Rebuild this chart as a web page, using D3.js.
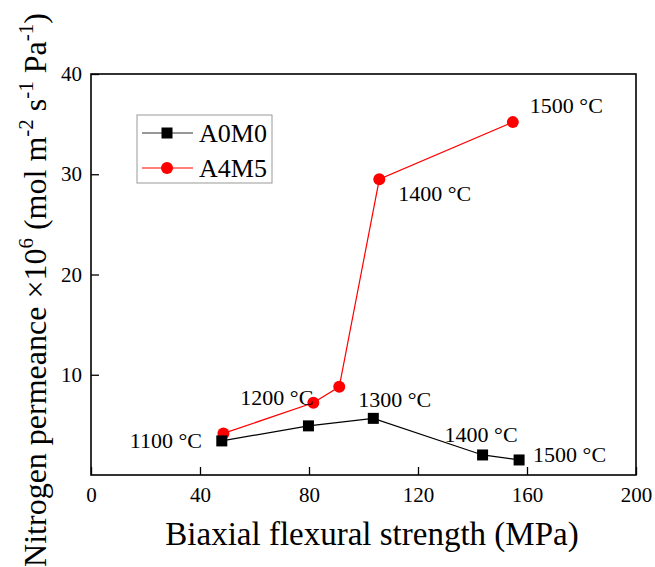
<!DOCTYPE html>
<html>
<head>
<meta charset="utf-8">
<script src="https://cdn.jsdelivr.net/npm/d3@7"></script>
<style>
  body { margin: 0; background: #fff; }
  svg { display: block; font-family: "Liberation Serif", "Times New Roman", serif; }
  .axis text { font-family: "Liberation Serif", "Times New Roman", serif; font-size: 21px; fill: #000; }
  .axis line { stroke: #000; stroke-width: 1.3; }
</style>
</head>
<body>
<svg width="655" height="567"></svg>
<script>
// data
const seriesNames = ['A0M0', 'A4M5'];
const a0m0Strength = [48.0, 79.8, 103.6, 143.7, 157.1];
const a0m0Permeance = [3.4, 4.9, 5.65, 2.0, 1.5];
const a4m5Strength = [48.6, 81.6, 91.1, 105.8, 154.8];
const a4m5Permeance = [4.15, 7.2, 8.8, 29.5, 35.2];
const a0m0Labels = ['1100 °C', '', '1300 °C', '1400 °C', '1500 °C'];
const a4m5Labels = ['', '1200 °C', '', '1400 °C', '1500 °C'];
const xTicks = [0, 40, 80, 120, 160, 200];
const yTicks = [10, 20, 30, 40];

// label offsets from the marker (px)
const a0m0Offsets = [[-92, 7], null, [-15, -11], [-38, -13], [14, 2]];
const a4m5Offsets = [null, [-73, 2], null, [19, 22], [17, -9]];

const svg = d3.select('svg');
const margin = { left: 91, top: 74, right: 636, bottom: 475 };
const innerWidth = margin.right - margin.left;
const innerHeight = margin.bottom - margin.top;

const x = d3.scaleLinear().domain([0, 200]).range([0, innerWidth]);
const y = d3.scaleLinear().domain([0, 40]).range([innerHeight, 0]);

const g = svg.append('g').attr('transform', `translate(${margin.left},${margin.top})`);

// axes, ticks pointing inward
const xAxis = d3.axisBottom(x).tickValues(xTicks).tickSizeInner(-8).tickSizeOuter(0).tickPadding(12);
const yAxis = d3.axisLeft(y).tickValues(yTicks).tickSizeInner(-8).tickSizeOuter(0).tickPadding(9);

g.append('g').attr('class', 'axis').attr('transform', `translate(0,${innerHeight})`).call(xAxis)
  .call(s => s.select('.domain').remove());
g.append('g').attr('class', 'axis').call(yAxis)
  .call(s => s.select('.domain').remove());

g.append('rect')
  .attr('width', innerWidth).attr('height', innerHeight)
  .attr('fill', 'none').attr('stroke', '#000').attr('stroke-width', 1.6);

const series = [
  { name: seriesNames[1], xs: a4m5Strength, ys: a4m5Permeance, labels: a4m5Labels, offsets: a4m5Offsets, color: '#ff0000', shape: 'circle' },
  { name: seriesNames[0], xs: a0m0Strength, ys: a0m0Permeance, labels: a0m0Labels, offsets: a0m0Offsets, color: '#000000', shape: 'square' },
];

const line = d3.line().x(d => x(d[0])).y(d => y(d[1]));

series.forEach(s => {
  const pts = s.xs.map((v, i) => [v, s.ys[i]]);
  g.append('path').datum(pts)
    .attr('d', line).attr('fill', 'none').attr('stroke', s.color).attr('stroke-width', 1.2);
  if (s.shape === 'circle') {
    g.selectAll(null).data(pts).enter().append('circle')
      .attr('cx', d => x(d[0])).attr('cy', d => y(d[1])).attr('r', 6).attr('fill', s.color);
  } else {
    g.selectAll(null).data(pts).enter().append('rect')
      .attr('x', d => x(d[0]) - 5.5).attr('y', d => y(d[1]) - 5.5)
      .attr('width', 11).attr('height', 11).attr('fill', s.color);
  }
  g.selectAll(null).data(pts.map((p, i) => ({ p, t: s.labels[i], o: s.offsets[i] })).filter(d => d.t))
    .enter().append('text')
    .attr('x', d => x(d.p[0]) + d.o[0]).attr('y', d => y(d.p[1]) + d.o[1])
    .attr('font-size', 22).text(d => d.t);
});

// legend
const legend = svg.append('g').attr('transform', 'translate(137,115)');
legend.append('rect').attr('width', 135).attr('height', 68)
  .attr('fill', '#fff').attr('stroke', '#999').attr('stroke-width', 1);
[series[1], series[0]].forEach((s, i) => {
  const row = legend.append('g').attr('transform', `translate(0,${18 + i * 35})`);
  row.append('line').attr('x1', 5).attr('x2', 56).attr('stroke', s.color === '#000000' ? '#333' : s.color).attr('stroke-width', 1.2);
  if (s.shape === 'circle') row.append('circle').attr('cx', 30).attr('r', 6).attr('fill', s.color);
  else row.append('rect').attr('x', 24.5).attr('y', -5.5).attr('width', 11).attr('height', 11).attr('fill', s.color);
  row.append('text').attr('x', 62).attr('y', 9).attr('font-size', 26).text(s.name);
});

// axis titles
svg.append('text').attr('x', 372).attr('y', 545).attr('text-anchor', 'middle')
  .attr('font-size', 33).text('Biaxial flexural strength (MPa)');

const yTitle = svg.append('text').attr('transform', 'translate(46,290) rotate(-90)')
  .attr('text-anchor', 'middle').attr('font-size', 32);
const parts = [['Nitrogen permeance \u00d710', false], ['6', true], [' (mol m', false], ['-2', true],
  [' s', false], ['-1', true], [' Pa', false], ['-1', true], [')', false]];
let raised = false;
parts.forEach(([t, sup]) => {
  const ts = yTitle.append('tspan').text(t);
  if (sup && !raised) { ts.attr('dy', -13).attr('font-size', 21); raised = true; }
  else if (sup) ts.attr('font-size', 21);
  else if (!sup && raised) { ts.attr('dy', 13); raised = false; }
});
</script>
</body>
</html>
